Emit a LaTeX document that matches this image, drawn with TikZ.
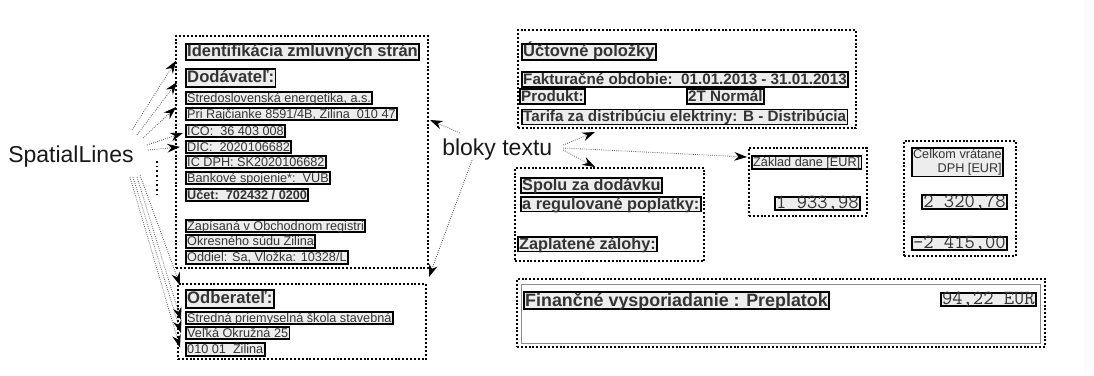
\documentclass[tikz,border=0pt]{standalone}
\usepackage{fontspec}
\setmainfont{Liberation Sans}
\usetikzlibrary{arrows.meta}
\def\pxu{0.75pt}
\tikzset{
  region/.style={draw=black, line width=1.5pt, dash pattern=on 1.5pt off 1.4pt,
    anchor=north west, inner sep=0pt},
  tb/.style={draw=black, line width=1.35pt, fill=black!7, text=black!80,
    anchor=west, inner xsep=1pt, inner ysep=0.6pt},
  small/.style={tb, font=\fontsize{9.5pt}{11pt}\selectfont, text height=7.2pt, text depth=0.9pt},
  smallb/.style={small, font=\fontsize{9.5pt}{11pt}\selectfont\bfseries},
  head/.style={tb, font=\fontsize{12.4pt}{14pt}\selectfont\bfseries, text height=9pt, text depth=1.6pt},
  headl/.style={tb, font=\fontsize{12.5pt}{14pt}\selectfont\bfseries, text height=9.6pt, text depth=2.4pt},
  item/.style={tb, font=\fontsize{11.4pt}{13pt}\selectfont\bfseries, text height=8.6pt, text depth=1.4pt},
  sum/.style={tb, font=\fontsize{12.2pt}{14pt}\selectfont\bfseries, text height=9pt, text depth=0.9pt},
  money/.style={tb, font=\fontsize{15pt}{17pt}\selectfont\ttfamily, text height=8.4pt, text depth=0.5pt},
  label/.style={font=\fontsize{17.25pt}{20pt}\selectfont, text=black!90, inner sep=0pt},
  conn/.style={draw=black!65, line width=0.6pt, densely dotted,
    -{Stealth[black, length=9.5pt, width=6.5pt]}},
}
\begin{document}
\begin{tikzpicture}[x=0.75pt, y=-0.75pt]
  \useasboundingbox (0,0) rectangle (1094,375);
  \fill[white] (0,0) rectangle (1094,375);
  \fill[black!1] (1084,0) rectangle (1094,375);

  % --- contracting parties ---
  \node[region, minimum width=252*\pxu, minimum height=232*\pxu] (L) at (175,35) {};
  \node[region, minimum width=248*\pxu, minimum height=75*\pxu] (R) at (177,283) {};

  \node[head]   (id)  at (185,52)    {Identifikácia zmluvných strán};
  \node[headl]  (dod) at (185,78)    {Dodávateľ:};
  \node[small]  (s1)  at (185,98)    {Stredoslovenská energetika, a.s.};
  \node[small]  (s2)  at (185,114)   {Pri Rajčianke 8591/4B, Žilina\ \ 010 47};
  \node[small]  (s3)  at (185,131)   {IČO:\ \ 36 403 008};
  \node[small]  (s4)  at (185,147)   {DIČ:\ \ 2020106682};
  \node[small]  (s5)  at (185,162)   {IČ DPH: SK2020106682};
  \node[small]  (s6)  at (185,178)   {Bankové spojenie*:\ \ VÚB};
  \node[smallb] (s7)  at (185,195)   {Účet:\ \ 702432 / 0200};
  \node[small]  (s8)  at (185,226)   {Zapísaná v Obchodnom registri};
  \node[small]  (s9)  at (185,241.5) {Okresného súdu Žilina};
  \node[small]  (s10) at (185,257.5) {Oddiel: Sa, Vložka: 10328/L};

  \node[headl]  (odb) at (185,299)   {Odberateľ:};
  \node[small]  (o1)  at (185,318)   {Stredná priemyselná škola stavebná};
  \node[small]  (o2)  at (185,333)   {Veľká Okružná 25};
  \node[small]  (o3)  at (185,349.5) {010 01\ \ Žilina};

  % --- billing items ---
  \node[region, minimum width=338*\pxu, minimum height=98*\pxu] (U) at (517,29) {};
  \node[head] (uc)   at (521,52)    {Účtovné položky};
  \node[item] (fak)  at (521,79.5)  {Fakturačné obdobie:\ \ 01.01.2013 - 31.01.2013};
  \node[item] (prod) at (519,96.5)  {Produkt:};
  \node[item] (norm) at (686,96.5)  {2T Normál};
  \node[item] (tar)  at (521,117)   {Tarifa za distribúciu elektriny: B - Distribúcia};

  % --- totals ---
  \node[region, minimum width=189*\pxu, minimum height=93*\pxu] (S) at (514,167) {};
  \node[sum] (sp1) at (520,185.5) {Spolu za dodávku};
  \node[sum] (sp2) at (520,204)   {a regulované poplatky:};
  \node[sum] (zal) at (517,244)   {Zaplatené zálohy:};

  \node[region, minimum width=118*\pxu, minimum height=68*\pxu] (Z) at (748,147) {};
  \node[small] (zak) at (751,162.5) {Základ dane [EUR]};
  \node[money] (v1)  at (774,203.5) {1 933,98};

  \node[region, minimum width=112*\pxu, minimum height=115*\pxu] (C) at (903,140) {};
  \node[tb, anchor=north east, align=right, inner ysep=1pt,
        font=\fontsize{9.5pt}{10.5pt}\selectfont] (cel) at (1004,147) {Celkom vrátane\\DPH [EUR]};
  \node[money, anchor=east] (v2) at (1008,202)   {2 320,78};
  \node[money, anchor=east] (v3) at (1008,243.5) {-2 415,00};

  % --- settlement ---
  \node[region, minimum width=528*\pxu, minimum height=68*\pxu] (F) at (516,278) {};
  \draw[black!45, line width=0.6pt] (521,284) rectangle (1040,343);
  \node[tb, font=\fontsize{13.4pt}{15pt}\selectfont\bfseries, text height=10pt, text depth=1.6pt]
        (fin) at (523,300.5) {Finančné vysporiadanie : Preplatok};
  \node[money, anchor=east] (eur) at (1037,299.5) {94,22 EUR};

  % --- labels ---
  \node[label, anchor=west] (sl) at (8,157) {SpatialLines};
  \node[label, anchor=base west] (bt) at (442,155) {bloky textu};

  \coordinate (sa1) at (132,130);
  \coordinate (sa2) at (137,135);
  \coordinate (sa3) at (143,138);
  \coordinate (sa4) at (147,145);
  \coordinate (sa5) at (148,150);
  \coordinate (sb1) at (140,175);
  \coordinate (sb2) at (137,177);
  \coordinate (sb3) at (133,177);
  \coordinate (sb4) at (130,177);
  \draw[line width=1.3pt, dash pattern=on 1.3pt off 2.2pt] (157,161) -- (157,196);

  \draw[conn] (sa1) -- ([shift={(-9,0)}]id.south west);
  \draw[conn] (sa2) -- ([shift={(-8,4)}]dod.west);
  \draw[conn] (sa3) -- ([shift={(-9,2)}]s1.south west);
  \draw[conn] (sa4) -- ([shift={(-2,2)}]s3.west);
  \draw[conn] (sa5) -- ([shift={(-5,0)}]s4.west);
  \draw[conn] (sb1) -- ([shift={(-5,-4)}]odb.north west);
  \draw[conn] (sb2) -- ([shift={(-4,2)}]o1.west);
  \draw[conn] (sb3) -- ([shift={(-4,0)}]o2.west);
  \draw[conn] (sb4) -- ([shift={(-5,-2)}]o3.west);

  \coordinate (ta1) at (460,133);
  \coordinate (ta2) at (472,160);
  \coordinate (tb1) at (563,145);
  \coordinate (tb2) at (563,150);
  \coordinate (tb3) at (563,148);
  \draw[conn] (ta1) -- ([shift={(1,85)}]L.north east);
  \draw[conn] (ta2) -- ([shift={(0,8)}]L.south east);
  \draw[conn] (tb1) -- ([shift={(78,3)}]U.south west);
  \draw[conn] (tb2) -- ([shift={(81,0)}]S.north west);
  \draw[conn] (tb3) -- ([shift={(-1,10)}]Z.north west);
\end{tikzpicture}
\end{document}
